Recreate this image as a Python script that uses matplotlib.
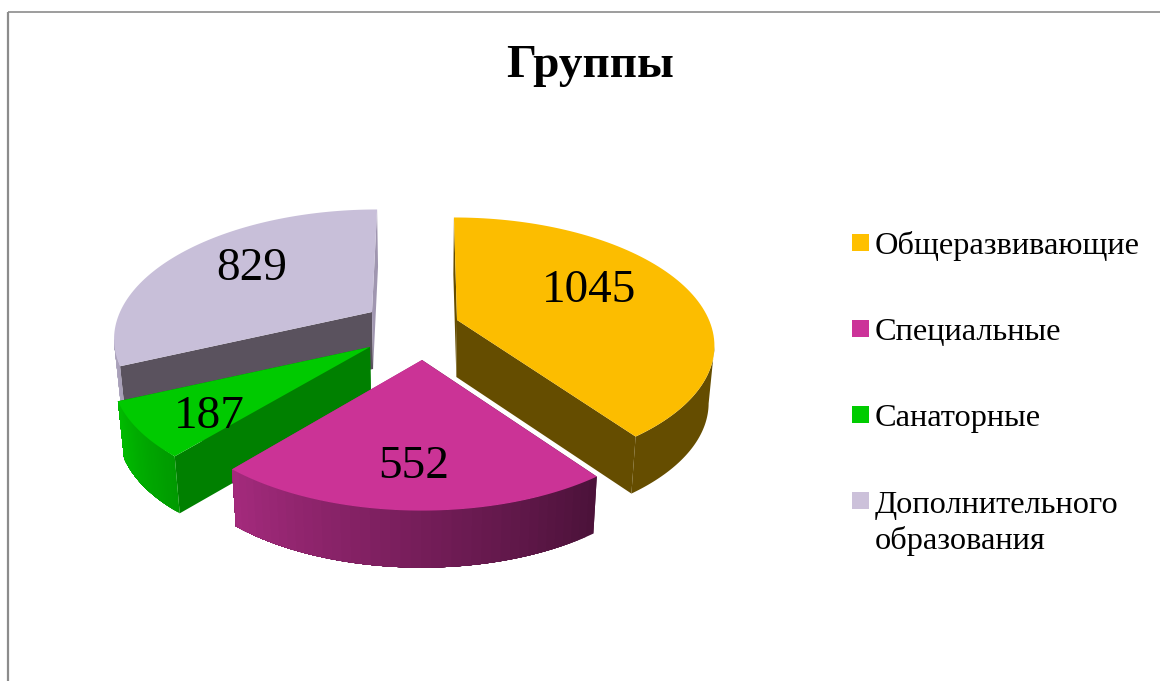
import numpy as np
import matplotlib
matplotlib.use("Agg")
import matplotlib.pyplot as plt
from matplotlib.colors import to_rgb
from matplotlib.patches import Polygon, Rectangle

# data
categories = ["Общеразвивающие", "Специальные", "Санаторные", "Дополнительного\nобразования"]
values = [1045, 552, 187, 829]

# look of each slice
top_colors = ["#FCBD00", "#CB3396", "#00CA00", "#C8BFD9"]
legend_colors = ["#FFC000", "#CC3399", "#00CC00", "#CCC1DA"]
wall_from = ["#654D00", "#4C123A", "#009A00", "#A89FB8"]
wall_to = ["#654D00", "#A32A7C", "#00BC00", "#B0A8C0"]
face_start = ["#654D00", "#4C123A", "#008000", "#5A525E"]
face_end = ["#654D00", "#A32A7C", "#008000", "#A096B0"]

# layout, in pixels of the picture
centers = [(457, 320), (422, 360), (370, 347), (372, 312)]
label_pos = [(589, 291), (414, 467), (209, 417), (252, 269)]
legend_y = [242.5, 328.5, 414.5, 500.5]
legend_base = [254, 340, 426, 549]
RX, RY, PERSP = 252, 122, 0.19
VANISH_X = 425
DEPTH = 57
BOTTOM_SCALE = 0.98


def project(cx, cy, angle, radius=1.0, bottom=False):
    # angle in degrees, clockwise from the top
    a = np.radians(angle)
    X = radius * np.sin(a)
    Y = radius * np.cos(a)
    s = 1 / (1 + PERSP * Y)
    px = cx + RX * X * s + (cx - VANISH_X) * (s - 1) * 0.6
    py = cy - RY * Y * s
    if bottom:
        px = VANISH_X + (px - VANISH_X) * BOTTOM_SCALE
        py = py + DEPTH
    return px, py


fig = plt.figure(figsize=(11.6, 6.81), dpi=100)
ax = fig.add_axes([0, 0, 1, 1])
ax.set_xlim(0, 1160)
ax.set_ylim(681, 0)
ax.axis("off")

serif = ["Liberation Serif", "DejaVu Serif"]

# frame of the chart area, it runs off the picture
ax.plot([8, 8], [681, 12], color="#8C8C8C", lw=1.6, solid_capstyle="butt")
ax.plot([8, 1160], [12, 12], color="#8C8C8C", lw=1.2, solid_capstyle="butt")

ax.text(590, 66, "Группы", family=serif, fontsize=34, fontweight="bold", ha="center", va="center")

# angles come from the values
edges = np.concatenate([[0], np.cumsum(values)]) / sum(values) * 360

# back slices first
for i in [3, 2, 0, 1]:
    cx, cy = centers[i]
    a0, a1 = edges[i], edges[i + 1]
    angles = np.linspace(a0, a1, 90)

    # straight cut faces
    for ang, col in [(a0, face_start[i]), (a1, face_end[i])]:
        quad = [project(cx, cy, ang, 0), project(cx, cy, ang),
                project(cx, cy, ang, bottom=True), project(cx, cy, ang, 0, bottom=True)]
        ax.add_patch(Polygon(quad, closed=True, fc=col, ec="none"))

    # outer wall, only the part that faces the viewer: from the rightmost to
    # the leftmost point of the rim. Each step paints over the rest of the
    # wall, so no seams show between the shades
    circle = np.arange(0, 360, 0.5)
    rim_x = project(cx, cy, circle)[0]
    lo, hi = max(a0, circle[rim_x.argmax()]), min(a1, circle[rim_x.argmin()])
    c0, c1 = np.array(to_rgb(wall_from[i])), np.array(to_rgb(wall_to[i]))
    steps = 1 if wall_from[i] == wall_to[i] else 40
    for j in range(steps):
        t = j / max(steps - 1, 1)
        sub = np.linspace(lo + (hi - lo) * j / steps, hi, 60)
        outline = [project(cx, cy, a) for a in sub] + [project(cx, cy, a, bottom=True) for a in sub[::-1]]
        ax.add_patch(Polygon(outline, closed=True, fc=c0 + (c1 - c0) * t, ec="none"))

    # top
    top = [project(cx, cy, 0, 0)] + [project(cx, cy, a) for a in angles]
    ax.add_patch(Polygon(top, closed=True, fc=top_colors[i], ec="none"))

# value labels
for val, (lx, ly) in zip(values, label_pos):
    ax.text(lx, ly, str(val), family=serif, fontsize=34, ha="center", va="center", color="black")

# legend
for name, col, y, base in zip(categories, legend_colors, legend_y, legend_base):
    ax.add_patch(Rectangle((852, y - 8.5), 17, 17, fc=col, ec="none"))
    ax.text(875, base, name, family=serif, fontsize=23.3, ha="left", va="baseline",
            linespacing=1.25, color="black")

fig.savefig("out.png", dpi=100)
